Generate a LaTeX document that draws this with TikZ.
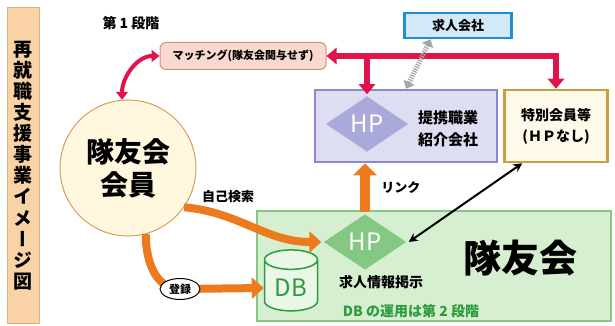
\documentclass[tikz,border=0pt]{standalone}
\usepackage{fontspec}
\setmainfont{Noto Sans CJK JP}
\newfontfamily\vjp{Noto Sans CJK JP}[RawFeature=+vert]
\usetikzlibrary{arrows.meta,shapes.geometric,calc}
\definecolor{sidefill}{HTML}{F9D3A5}
\definecolor{sideline}{HTML}{DDB27A}
\definecolor{matchfill}{HTML}{F8D8CF}
\definecolor{matchline}{HTML}{D98E80}
\definecolor{memfill}{HTML}{FFF7DE}
\definecolor{memline}{HTML}{D0A060}
\definecolor{redarr}{HTML}{E0144C}
\definecolor{kyfill}{HTML}{D3E9F7}
\definecolor{kyline}{HTML}{1E90D0}
\definecolor{ptfill}{HTML}{DEDEF2}
\definecolor{ptline}{HTML}{8A8ACB}
\definecolor{ptdia}{HTML}{A9A9DA}
\definecolor{spfill}{HTML}{FFF9EA}
\definecolor{spline}{HTML}{C9A13C}
\definecolor{gnfill}{HTML}{D6EFD0}
\definecolor{gnline}{HTML}{85C785}
\definecolor{gndia}{HTML}{84C884}
\definecolor{gntext}{HTML}{2E9B3E}
\definecolor{orarr}{HTML}{EE7A1E}
\tikzset{
  fs/.style={font=\fontsize{#1}{#1}\selectfont\bfseries},
  frame/.style={draw, line width=2.5pt, inner sep=0pt, align=center},
  hpdia/.style={diamond, inner sep=0pt, minimum width=86pt, minimum height=58pt,
    text=white, font=\fontsize{24}{24}\selectfont},
  redline/.style={draw=redarr, line width=6pt, -{Triangle[length=10pt,width=16pt]}},
  orline/.style={draw=orarr, line width=8pt, -{Triangle[length=12pt,width=21pt]}}
}
\begin{document}
\begin{tikzpicture}[x=1pt,y=1pt]
\useasboundingbox (0,0) rectangle (615,-326);
% side title
\node[frame, draw=sideline, line width=1pt, fill=sidefill, minimum width=32pt, minimum height=315pt,
  font=\fontsize{19}{21.1}\selectfont\bfseries\vjp] (side) at (23,-165.5)
  {再\\就\\職\\支\\援\\事\\業\\イ\\メ\\ー\\ジ\\図};
\node[fs=14] (stage) at (131,-23) {第 1 段階};
% nodes
\node[frame, rounded corners=6pt, line width=1pt, draw=matchline, fill=matchfill,
  minimum width=166pt, minimum height=27pt, fs=11] (match) at (243,-56) {マッチング(隊友会関与せず)};
\node[circle, draw=memline, line width=1pt, fill=memfill, minimum size=136pt, inner sep=0pt,
  align=center, font=\fontsize{28}{33}\selectfont\bfseries] (member) at (128,-168) {隊友会\\会員};
\node[frame, draw=kyline, fill=kyfill, minimum width=107pt, minimum height=25pt, fs=13] (kyujin) at (458,-25.5) {求人会社};
\node[frame, draw=ptline, fill=ptfill, minimum width=182pt, minimum height=72pt] (partner) at (406,-126) {};
\node[hpdia, fill=ptdia, draw=ptfill, line width=1.5pt] (hp1) at (367,-124) {HP};
\node[align=center, font=\fontsize{15}{22}\selectfont\bfseries] (ptext) at (448,-129) {提携職業\\紹介会社};
\node[frame, draw=spline, fill=spfill, minimum width=103pt, minimum height=72pt,
  font=\fontsize{14}{21}\selectfont\bfseries] (special) at (556,-126) {特別会員等\\(ＨＰなし)};
\node[frame, draw=gnline, line width=1.5pt, fill=gnfill, minimum width=354pt, minimum height=110pt] (tomo) at (434,-266) {};
\node[fs=38] (tomoname) at (520,-258) {隊友会};
\node[hpdia, fill=gndia, draw=gnfill, line width=1.5pt] (hp2) at (365,-242) {HP};
\node[cylinder, shape border rotate=90, aspect=0.5, draw=gntext, line width=1.5pt, fill=gnfill!50,
  minimum width=53pt, minimum height=61pt, text=gntext, font=\fontsize{24}{24}\selectfont] (db) at (291,-288) {\raisebox{-5pt}{DB}};
\node[fs=14] (post) at (381,-282) {求人情報掲示};
\node[fs=14, text=gntext] (dbnote) at (411,-311) {DB の運用は第 2 段階};
% connectors
\draw[draw=redarr, line width=4pt, {Triangle[length=8pt,width=12pt]}-{Triangle[length=8pt,width=12pt]}]
  (member.95) to[out=90,in=180] (match.west);
\draw[redline, {Triangle[length=10pt,width=16pt]}-{Triangle[length=10pt,width=16pt]}] (match.east) -| (special.north);
\draw[redline] (hp1.north |- match.east) -- (hp1.north);
\draw[draw=gray!70, line width=5pt, dash pattern=on 1.2pt off 1.2pt,
  {Triangle[length=7pt,width=12pt]}-{Triangle[length=7pt,width=12pt]}]
  ($(kyujin.south)!0.5!(kyujin.south west)$) -- (partner.north);
\draw[orline, line width=10pt, -{Triangle[length=12pt,width=23pt]}] (hp2.north) -- (hp2.north |- partner.south)
  node[midway, right=8pt, fs=13, text=black] (link) {リンク};
\draw[black, line width=2pt, {Stealth[length=9pt,width=9pt]}-{Stealth[length=9pt,width=9pt]}]
  (hp2.east) -- ($(special.south west)!0.18!(special.south east)$);
\draw[orline] (member.-35) to[out=-5,in=180] (hp2.west);
\node[fs=13] (selfsearch) at (228,-197) {自己検索};
\coordinate (regc) at (180,-289);
\draw[orline] (member.-75) to[out=-90,in=180] (regc) -- (db.west);
\node[ellipse, draw, line width=1pt, fill=white, inner sep=1pt, minimum width=40pt, minimum height=21pt, fs=11] (reg) at (regc) {登録};
\end{tikzpicture}
\end{document}
